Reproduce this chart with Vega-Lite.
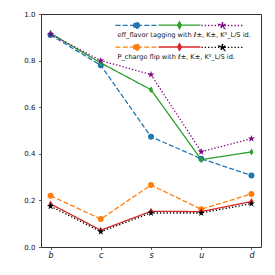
{
  "$schema": "https://vega.github.io/schema/vega-lite/v6.json",
  "width": 220,
  "height": 233,
  "autosize": "none",
  "padding": {"left": 41, "top": 14, "right": 14, "bottom": 28},
  "config": {
    "font": "DejaVu Sans",
    "view": {"stroke": "#333333", "strokeWidth": 1},
    "axis": {
      "domain": false,
      "grid": false,
      "tickColor": "#333333",
      "tickSize": 2.5,
      "tickWidth": 0.8,
      "labelColor": "#111111",
      "labelFont": "DejaVu Sans",
      "labelFontSize": 7,
      "title": null
    }
  },
  "datasets": {
    "eff": [
      {"quark": "b", "series": "eff1", "value": 0.91},
      {"quark": "c", "series": "eff1", "value": 0.78},
      {"quark": "s", "series": "eff1", "value": 0.473},
      {"quark": "u", "series": "eff1", "value": 0.379},
      {"quark": "d", "series": "eff1", "value": 0.307},
      {"quark": "b", "series": "eff2", "value": 0.917},
      {"quark": "c", "series": "eff2", "value": 0.79},
      {"quark": "s", "series": "eff2", "value": 0.675},
      {"quark": "u", "series": "eff2", "value": 0.375},
      {"quark": "d", "series": "eff2", "value": 0.408},
      {"quark": "b", "series": "eff3", "value": 0.913},
      {"quark": "c", "series": "eff3", "value": 0.8},
      {"quark": "s", "series": "eff3", "value": 0.74},
      {"quark": "u", "series": "eff3", "value": 0.409},
      {"quark": "d", "series": "eff3", "value": 0.465}
    ],
    "pcf": [
      {"quark": "b", "series": "pcf1", "value": 0.22},
      {"quark": "c", "series": "pcf1", "value": 0.12},
      {"quark": "s", "series": "pcf1", "value": 0.266},
      {"quark": "u", "series": "pcf1", "value": 0.162},
      {"quark": "d", "series": "pcf1", "value": 0.228},
      {"quark": "b", "series": "pcf2", "value": 0.185},
      {"quark": "c", "series": "pcf2", "value": 0.072},
      {"quark": "s", "series": "pcf2", "value": 0.153},
      {"quark": "u", "series": "pcf2", "value": 0.152},
      {"quark": "d", "series": "pcf2", "value": 0.195},
      {"quark": "b", "series": "pcf3", "value": 0.175},
      {"quark": "c", "series": "pcf3", "value": 0.066},
      {"quark": "s", "series": "pcf3", "value": 0.146},
      {"quark": "u", "series": "pcf3", "value": 0.146},
      {"quark": "d", "series": "pcf3", "value": 0.186}
    ]
  },
  "encoding": {
    "x": {
      "field": "quark",
      "type": "nominal",
      "sort": ["b", "c", "s", "u", "d"],
      "scale": {"type": "point", "padding": 0.19},
      "axis": {"labelAngle": 0, "labelFontStyle": "italic", "labelFontSize": 8, "labelPadding": 2}
    },
    "y": {
      "field": "value",
      "type": "quantitative",
      "scale": {"domain": [0, 1], "nice": false, "zero": false},
      "axis": {"values": [0, 0.2, 0.4, 0.6, 0.8, 1.0], "format": ".1f", "labelPadding": 3.5}
    }
  },
  "layer": [
    {
      "data": {"name": "eff"},
      "layer": [
        {
          "mark": {"type": "line", "strokeWidth": 1.3},
          "encoding": {
            "color": {
              "field": "series",
              "type": "nominal",
              "scale": {"domain": ["eff1", "eff2", "eff3"], "range": ["#1f77b4", "#2ca02c", "#800080"]},
              "legend": {
                "orient": "none",
                "legendX": 76.5,
                "legendY": -8.3,
                "padding": 0,
                "columns": 3,
                "columnPadding": -5.5,
                "rowPadding": 0,
                "labelExpr": "''",
                "labelOffset": 0,
                "labelFontSize": 6,
                "symbolSize": 1296,
                "symbolStrokeWidth": 1.3,
                "title": "eff_flavor tagging with ℓ±, K±, K⁰_L/S id.",
                "titleOrient": "bottom",
                "titleAnchor": "start",
                "titleFont": "DejaVu Sans",
                "titleFontSize": 6.6,
                "titleFontWeight": "normal",
                "titleColor": "#111111",
                "titlePadding": 0.5,
                "titleLimit": 400,
                "encode": {
                  "symbols": {
                    "update": {
                      "shape": {"signal": "datum.value === 'eff1' ? 'M-1.167,0L1.167,0M0.167,0L0.145,0.083L0.083,0.145L0,0.167L-0.083,0.145L-0.145,0.083L-0.167,0L-0.145,-0.083L-0.083,-0.145L0,-0.167L0.083,-0.145L0.145,-0.083Z' : datum.value === 'eff2' ? 'M-1.167,0L1.167,0M0,-0.19L0.105,0L0,0.19L-0.105,0Z' : 'M-1.167,0L1.167,0M0,-0.19L0.043,-0.059L0.181,-0.059L0.069,0.022L0.112,0.154L0,0.073L-0.112,0.154L-0.069,0.022L-0.181,-0.059L-0.043,-0.059Z'"},
                      "fill": {"signal": "datum.value === 'eff1' ? '#1f77b4' : datum.value === 'eff2' ? '#2ca02c' : '#800080'"},
                      "strokeDash": {"signal": "datum.value === 'eff1' ? [5,2.2] : datum.value === 'eff2' ? [1,0] : [1.3,2]"}
                    }
                  }
                }
              }
            },
            "strokeDash": {
              "field": "series",
              "type": "nominal",
              "scale": {"domain": ["eff1", "eff2", "eff3"], "range": [[5, 2.2], [1, 0], [1.3, 2]]},
              "legend": null
            }
          }
        },
        {
          "transform": [{"filter": "datum.series === 'eff1'"}],
          "mark": {"type": "point", "filled": true, "opacity": 1, "color": "#1f77b4", "shape": "circle", "size": 36}
        },
        {
          "transform": [{"filter": "datum.series === 'eff2'"}],
          "mark": {"type": "point", "filled": true, "opacity": 1, "color": "#2ca02c", "shape": "M0,-1L0.6,0L0,1L-0.6,0Z", "size": 49}
        },
        {
          "transform": [{"filter": "datum.series === 'eff3'"}],
          "mark": {"type": "point", "filled": true, "opacity": 1, "color": "#800080", "shape": "M0,-1L0.225,-0.309L0.951,-0.309L0.363,0.118L0.588,0.809L0,0.382L-0.588,0.809L-0.363,0.118L-0.951,-0.309L-0.225,-0.309Z", "size": 56}
        }
      ]
    },
    {
      "data": {"name": "pcf"},
      "layer": [
        {
          "mark": {"type": "line", "strokeWidth": 1.3},
          "encoding": {
            "color": {
              "field": "series",
              "type": "nominal",
              "scale": {"domain": ["pcf1", "pcf2", "pcf3"], "range": ["#ff7f0e", "#d62728", "#000000"]},
              "legend": {
                "orient": "none",
                "legendX": 76.5,
                "legendY": 13.5,
                "padding": 0,
                "columns": 3,
                "columnPadding": -5.5,
                "rowPadding": 0,
                "labelExpr": "''",
                "labelOffset": 0,
                "labelFontSize": 6,
                "symbolSize": 1296,
                "symbolStrokeWidth": 1.3,
                "title": "P_charge flip with ℓ±, K±, K⁰_L/S id.",
                "titleOrient": "bottom",
                "titleAnchor": "start",
                "titleFont": "DejaVu Sans",
                "titleFontSize": 6.6,
                "titleFontWeight": "normal",
                "titleColor": "#111111",
                "titlePadding": 0.5,
                "titleLimit": 400,
                "encode": {
                  "symbols": {
                    "update": {
                      "shape": {"signal": "datum.value === 'pcf1' ? 'M-1.167,0L1.167,0M0.167,0L0.145,0.083L0.083,0.145L0,0.167L-0.083,0.145L-0.145,0.083L-0.167,0L-0.145,-0.083L-0.083,-0.145L0,-0.167L0.083,-0.145L0.145,-0.083Z' : datum.value === 'pcf2' ? 'M-1.167,0L1.167,0M0,-0.19L0.105,0L0,0.19L-0.105,0Z' : 'M-1.167,0L1.167,0M0,-0.19L0.043,-0.059L0.181,-0.059L0.069,0.022L0.112,0.154L0,0.073L-0.112,0.154L-0.069,0.022L-0.181,-0.059L-0.043,-0.059Z'"},
                      "fill": {"signal": "datum.value === 'pcf1' ? '#ff7f0e' : datum.value === 'pcf2' ? '#d62728' : '#000000'"},
                      "strokeDash": {"signal": "datum.value === 'pcf1' ? [5,2.2] : datum.value === 'pcf2' ? [1,0] : [1.3,2]"}
                    }
                  }
                }
              }
            },
            "strokeDash": {
              "field": "series",
              "type": "nominal",
              "scale": {"domain": ["pcf1", "pcf2", "pcf3"], "range": [[5, 2.2], [1, 0], [1.3, 2]]},
              "legend": null
            }
          }
        },
        {
          "transform": [{"filter": "datum.series === 'pcf1'"}],
          "mark": {"type": "point", "filled": true, "opacity": 1, "color": "#ff7f0e", "shape": "circle", "size": 36}
        },
        {
          "transform": [{"filter": "datum.series === 'pcf2'"}],
          "mark": {"type": "point", "filled": true, "opacity": 1, "color": "#d62728", "shape": "M0,-1L0.6,0L0,1L-0.6,0Z", "size": 49}
        },
        {
          "transform": [{"filter": "datum.series === 'pcf3'"}],
          "mark": {"type": "point", "filled": true, "opacity": 1, "color": "#000000", "shape": "M0,-1L0.225,-0.309L0.951,-0.309L0.363,0.118L0.588,0.809L0,0.382L-0.588,0.809L-0.363,0.118L-0.951,-0.309L-0.225,-0.309Z", "size": 56}
        }
      ]
    }
  ],
  "resolve": {"scale": {"color": "independent", "strokeDash": "independent"}}
}
